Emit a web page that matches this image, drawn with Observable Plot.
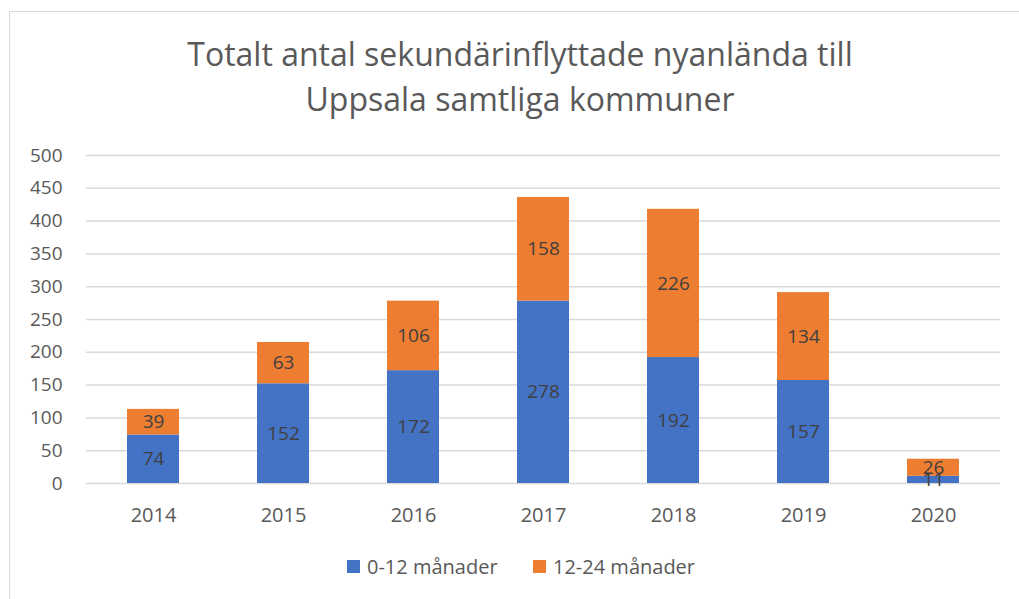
<!DOCTYPE html>
<html><head><meta charset="utf-8">
<script src="https://cdn.jsdelivr.net/npm/d3@7"></script>
<script src="https://cdn.jsdelivr.net/npm/@observablehq/plot@0.6"></script>
<style>
body{margin:0;background:#fff;font-family:"Open Sans",sans-serif;overflow:hidden;width:1019px;height:599px;position:relative}
#frame{position:absolute;left:9px;top:11px;width:1100px;height:700px;border:1.5px solid #d9d9d9;box-sizing:border-box}
#title{position:absolute;left:0;width:1040px;top:31px;text-align:center;color:#595959;font-size:32px;line-height:45px}
#chart{position:absolute;left:0;top:140px}
#legend{position:absolute;top:553px;left:0;width:1019px;font-size:20px;color:#595959}
.item{position:absolute;display:flex;align-items:center}
.sw{width:13px;height:13px;margin-right:7px}
</style></head><body>
<div id="frame"></div>
<div id="title">Totalt antal sekundärinflyttade nyanlända till<br>Uppsala samtliga kommuner</div>
<div id="chart"></div>
<div id="legend"></div>
<script>
const years = ["2014","2015","2016","2017","2018","2019","2020"];
const seriesNames = ["0-12 månader","12-24 månader"];
const v0_12 = [74,152,172,278,192,157,11];
const v12_24 = [39,63,106,158,226,134,26];
const colors = ["#4472C4","#ED7D31"];
const yTicks = [0,50,100,150,200,250,300,350,400,450,500];

const data = [];
years.forEach((y,i)=>{
  data.push({year:y, series:seriesNames[0], value:v0_12[i]});
  data.push({year:y, series:seriesNames[1], value:v12_24[i]});
});

const plot = Plot.plot({
  width:1019, height:400,
  marginLeft:86, marginRight:19, marginTop:15, marginBottom:57,
  style:{fontFamily:"Open Sans, sans-serif", fontSize:"19px", color:"#595959", background:"transparent"},
  x:{domain:years, paddingInner:0.6, paddingOuter:0.3, label:null},
  y:{domain:[0,500], label:null},
  color:{domain:seriesNames, range:colors},
  marks:[
    Plot.ruleY(yTicks,{stroke:"#d9d9d9", strokeWidth:1.5}),
    Plot.barY(data, Plot.stackY({x:"year", y:"value", z:"series", fill:"series", order:seriesNames})),
    Plot.text(data, Plot.stackY({x:"year", y:"value", z:"series", text:d=>String(d.value), order:seriesNames, fill:"#404040", fontSize:19})),
    Plot.axisY({ticks:yTicks, tickSize:0, tickPadding:24, label:null, fontSize:19, fill:"#595959"}),
    Plot.axisX({tickSize:0, tickPadding:24, label:null, fontSize:20, fill:"#595959"})
  ]
});
document.getElementById("chart").appendChild(plot);

const legend = document.getElementById("legend");
const lx = [347,533];
seriesNames.forEach((s,i)=>{
  const it = document.createElement("div");
  it.className="item"; it.style.left=lx[i]+"px";
  it.innerHTML = `<div class="sw" style="background:${colors[i]}"></div><span>${s}</span>`;
  legend.appendChild(it);
});
</script>
</body></html>
